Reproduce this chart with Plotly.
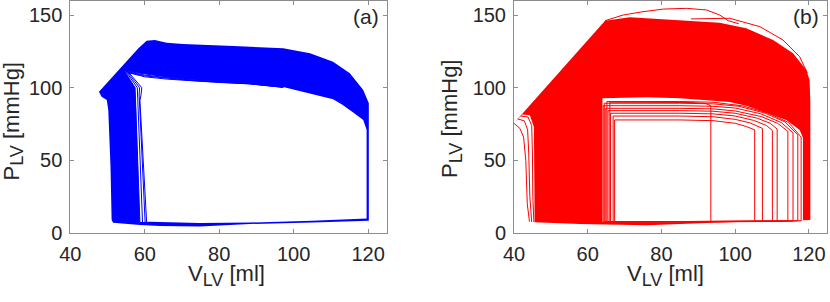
import plotly.graph_objects as go

# ---------------- Panel (a): V_LV [ml] / P_LV [mmHg] ----------------
a_outer_v = [47.7, 52.5, 58.3, 60.5, 62.7, 65.9, 70.3, 83.8, 97.2, 104.4, 110.6, 115.1, 118.7, 120.2, 120.2,
             105.0, 88.2, 74.8, 64.1, 58.7, 51.5, 51.1, 50.8, 50.2, 49.8, 48.4]
a_outer_p = [97.2, 110.7, 127.1, 132.3, 132.8, 131.0, 130.0, 128.7, 127.1, 123.7, 117.9, 109.9, 98.4, 89.3, 8.4,
             7.2, 6.2, 4.5, 4.8, 5.5, 7.1, 8.9, 45.6, 84.7, 91.5, 93.8]

a_hole_v = [58.7, 61.4, 74.8, 88.2, 105.0, 119.6, 119.6, 118.7, 116.0, 113.0, 110.6, 104.4, 97.2, 88.2,
            80.0, 72.0, 66.0, 60.0, 54.6, 57.4, 57.5, 57.6]
a_hole_p = [7.5, 7.8, 6.8, 7.2, 8.5, 10.0, 71.0, 77.8, 83.0, 88.5, 92.0, 96.1, 100.5, 102.9,
            104.3, 105.6, 107.4, 109.3, 111.4, 100.0, 95.0, 91.0]

a_hook_v = [[58.7, 57.6, 57.5, 57.4, 54.6, 60.0, 66.0, 72.0, 80.0, 88.2, 97.2],
            [59.4, 58.0, 58.0, 58.0, 55.0, 60.0, 66.0, 72.0, 80.0, 88.2, 97.2],
            [60.1, 58.4, 58.5, 58.6, 55.4, 60.0, 66.0, 72.0, 80.0, 88.2, 97.2],
            [60.5, 58.7, 59.0, 59.2, 55.8, 60.0, 66.0, 72.0, 80.0, 88.2, 97.2]]
a_hook_p = [[7.5, 91.0, 95.0, 100.0, 111.4, 109.3, 107.4, 105.6, 104.3, 102.9, 100.5],
            [7.5, 91.0, 95.0, 100.0, 111.0, 108.7, 106.9, 105.3, 104.0, 102.8, 100.4],
            [7.5, 91.0, 95.0, 100.0, 110.6, 108.1, 106.4, 105.0, 103.8, 102.7, 100.3],
            [7.5, 91.0, 95.0, 100.0, 110.2, 107.5, 105.9, 104.7, 103.6, 102.6, 100.2]]

# ---------------- Panel (b) ----------------
b_outer_v = [40.2, 57.9, 64.7, 71.4, 85.0, 95.8, 103.0, 110.3, 115.7, 119.3, 120.2, 120.4, 120.4,
             104.0, 94.0, 76.0, 66.9, 57.9, 45.6, 45.6, 45.5, 45.4, 44.3, 42.3]
b_outer_p = [76.2, 126.8, 146.1, 148.4, 146.6, 144.7, 140.9, 132.8, 123.7, 112.2, 105.3, 90.0, 8.9,
             7.9, 7.1, 5.3, 5.5, 6.2, 7.4, 30.0, 60.0, 73.0, 81.0, 81.6]

b_hole_v = [64.0, 70.0, 80.0, 94.0, 105.0, 118.4, 118.4, 117.5, 113.9, 107.6, 103.0, 98.5, 94.0, 85.0, 76.0, 66.9, 64.0]
b_hole_p = [7.8, 7.3, 7.2, 7.6, 8.2, 8.8, 65.5, 70.9, 77.8, 83.5, 87.5, 90.2, 91.1, 92.7, 93.4, 92.7, 92.7]

b_hook_v = [[40.0, 41.6, 42.6, 43.2, 43.6, 44.2],
            [41.0, 42.8, 43.7, 44.0, 44.3, 44.8],
            [41.8, 43.8, 44.8, 45.0, 45.1, 45.4]]
b_hook_p = [[75.5, 72.0, 66.0, 50.0, 20.0, 7.8],
            [78.5, 77.2, 71.0, 55.0, 25.0, 7.6],
            [80.5, 79.8, 74.0, 55.0, 25.0, 7.5]]

b_inner_v = [[67.3, 67.3, 85.0, 94.0, 100.0, 103.1, 105.3, 105.3, 67.3],
             [66.9, 66.9, 85.0, 94.0, 100.0, 104.0, 107.4, 107.4, 66.9],
             [66.2, 66.2, 85.0, 94.0, 100.0, 105.0, 108.5, 110.1, 110.1, 66.2],
             [65.5, 65.5, 85.0, 94.0, 100.0, 106.0, 109.5, 111.4, 111.4, 65.5],
             [64.9, 64.9, 85.0, 94.0, 100.0, 107.0, 111.5, 114.3, 114.3, 64.9],
             [64.2, 64.2, 85.0, 94.0, 100.0, 107.0, 112.5, 115.7, 115.7, 64.2],
             [64.5, 64.5, 85.0, 94.0, 101.0, 108.0, 113.5, 117.0, 117.0, 64.5],
             [65.2, 65.2, 85.0, 94.0, 102.0, 109.0, 114.5, 117.9, 117.9, 65.2],
             [66.0, 66.0, 88.0, 92.0, 93.4, 93.4, 66.0]]
b_inner_p = [[7.6, 77.8, 77.8, 77.3, 75.5, 73.2, 71.0, 7.9, 7.6],
             [7.6, 80.5, 80.5, 80.0, 78.2, 75.8, 72.0, 7.9, 7.6],
             [7.6, 82.4, 82.4, 82.0, 80.5, 77.5, 74.0, 70.5, 8.0, 7.6],
             [7.6, 84.2, 84.2, 83.8, 82.4, 79.0, 75.5, 71.5, 8.0, 7.6],
             [7.6, 85.8, 85.8, 85.4, 84.0, 80.2, 75.5, 70.0, 8.1, 7.6],
             [7.6, 87.6, 87.6, 87.2, 86.0, 82.0, 76.0, 69.0, 8.2, 7.6],
             [7.6, 89.3, 89.3, 88.9, 87.2, 82.6, 76.5, 67.5, 8.3, 7.6],
             [7.6, 90.5, 90.5, 90.0, 87.5, 82.5, 76.0, 66.0, 8.4, 7.6],
             [7.6, 90.0, 89.8, 89.2, 87.5, 7.9, 7.6]]

b_outlier_v = [64.7, 69.6, 75.0, 80.5, 86.8, 92.2, 95.8, 98.1, 101.0]
b_outlier_p = [146.1, 150.0, 152.3, 154.1, 154.6, 153.5, 150.0, 146.1, 144.0]
b_edge_v = [88.0, 98.5, 106.7, 113.0, 117.5, 119.6]
b_edge_p = [147.3, 147.8, 142.0, 132.8, 121.3, 110.0]

x_ticks = [40, 60, 80, 100, 120]
y_ticks = [0, 50, 100, 150]

BLUE = "#0000FF"
RED = "#FF0000"
TXT = "#262626"
AX = "#8c8c8c"
FONT = "Liberation Sans, Arial, Helvetica, sans-serif"

fig = go.Figure()


def poly(v, p, color, xa, ya):
    fig.add_trace(go.Scatter(x=v, y=p, mode="lines", fill="toself", fillcolor=color,
                             line=dict(width=0, color=color), hoverinfo="skip",
                             showlegend=False, xaxis=xa, yaxis=ya))


def line(v, p, color, xa, ya, w=1.0):
    fig.add_trace(go.Scatter(x=v, y=p, mode="lines", line=dict(width=w, color=color),
                             hoverinfo="skip", showlegend=False, xaxis=xa, yaxis=ya))


# panel a
poly(a_outer_v, a_outer_p, BLUE, "x", "y")
poly(a_hole_v, a_hole_p, "white", "x", "y")
for v, p in zip(a_hook_v, a_hook_p):
    line(v, p, BLUE, "x", "y")

# panel b
poly(b_outer_v, b_outer_p, RED, "x2", "y2")
poly(b_hole_v, b_hole_p, "white", "x2", "y2")
for v, p in zip(b_hook_v, b_hook_p):
    line(v, p, RED, "x2", "y2")
for v, p in zip(b_inner_v, b_inner_p):
    line(v, p, RED, "x2", "y2")
line(b_outlier_v, b_outlier_p, RED, "x2", "y2")
line(b_edge_v, b_edge_p, RED, "x2", "y2")

W, H = 830, 302
ydom = [(H - 233) / H, 1 - 0.5 / H]

axis_common = dict(showgrid=False, zeroline=False, showline=True, linecolor=AX, linewidth=1,
                   mirror="ticks", ticks="inside", ticklen=4, tickcolor=AX, tickwidth=1,
                   automargin=False, ticklabelstandoff=3,
                   tickfont=dict(family=FONT, size=20, color=TXT))

fig.update_layout(
    width=W, height=H, margin=dict(l=0, r=0, t=0, b=0, pad=0, autoexpand=False),
    paper_bgcolor="white", plot_bgcolor="white", showlegend=False,
    xaxis=dict(domain=[70.3 / W, 386.7 / W], range=[40, 125], tickvals=x_ticks, anchor="y", **axis_common),
    yaxis=dict(domain=ydom, range=[0, 160], tickvals=y_ticks, anchor="x", **axis_common),
    xaxis2=dict(domain=[514 / W, 827.3 / W], range=[40, 125], tickvals=x_ticks, anchor="y2", **axis_common),
    yaxis2=dict(domain=ydom, range=[0, 160], tickvals=y_ticks, anchor="x2", **axis_common),
)

sub = "<sub><span style='font-size:18px'>LV</span></sub>"
ann = []
for cx in [226.7, 665]:
    ann.append(dict(text="V" + sub + " [ml]", x=cx / W, y=1 - 275 / H, xref="paper", yref="paper",
                    xanchor="center", yanchor="middle", showarrow=False,
                    font=dict(family=FONT, size=22, color=TXT)))
for cx, cy in [(13, 121.5), (451, 119)]:
    ann.append(dict(text="P" + sub + " [mmHg]", x=cx / W, y=1 - cy / H, xref="paper", yref="paper",
                    xanchor="center", yanchor="middle", textangle=-90, showarrow=False,
                    font=dict(family=FONT, size=22, color=TXT)))
for rx, lab in [(381, "(a)"), (821, "(b)")]:
    ann.append(dict(text=lab, x=rx / W, y=1 - 3 / H, xref="paper", yref="paper",
                    xanchor="right", yanchor="top", showarrow=False,
                    font=dict(family=FONT, size=21, color=TXT)))
fig.update_layout(annotations=ann)

fig.write_html("out.html", config={"displayModeBar": False, "staticPlot": True},
               post_script="document.body.style.margin='0';document.body.style.overflow='hidden';")
